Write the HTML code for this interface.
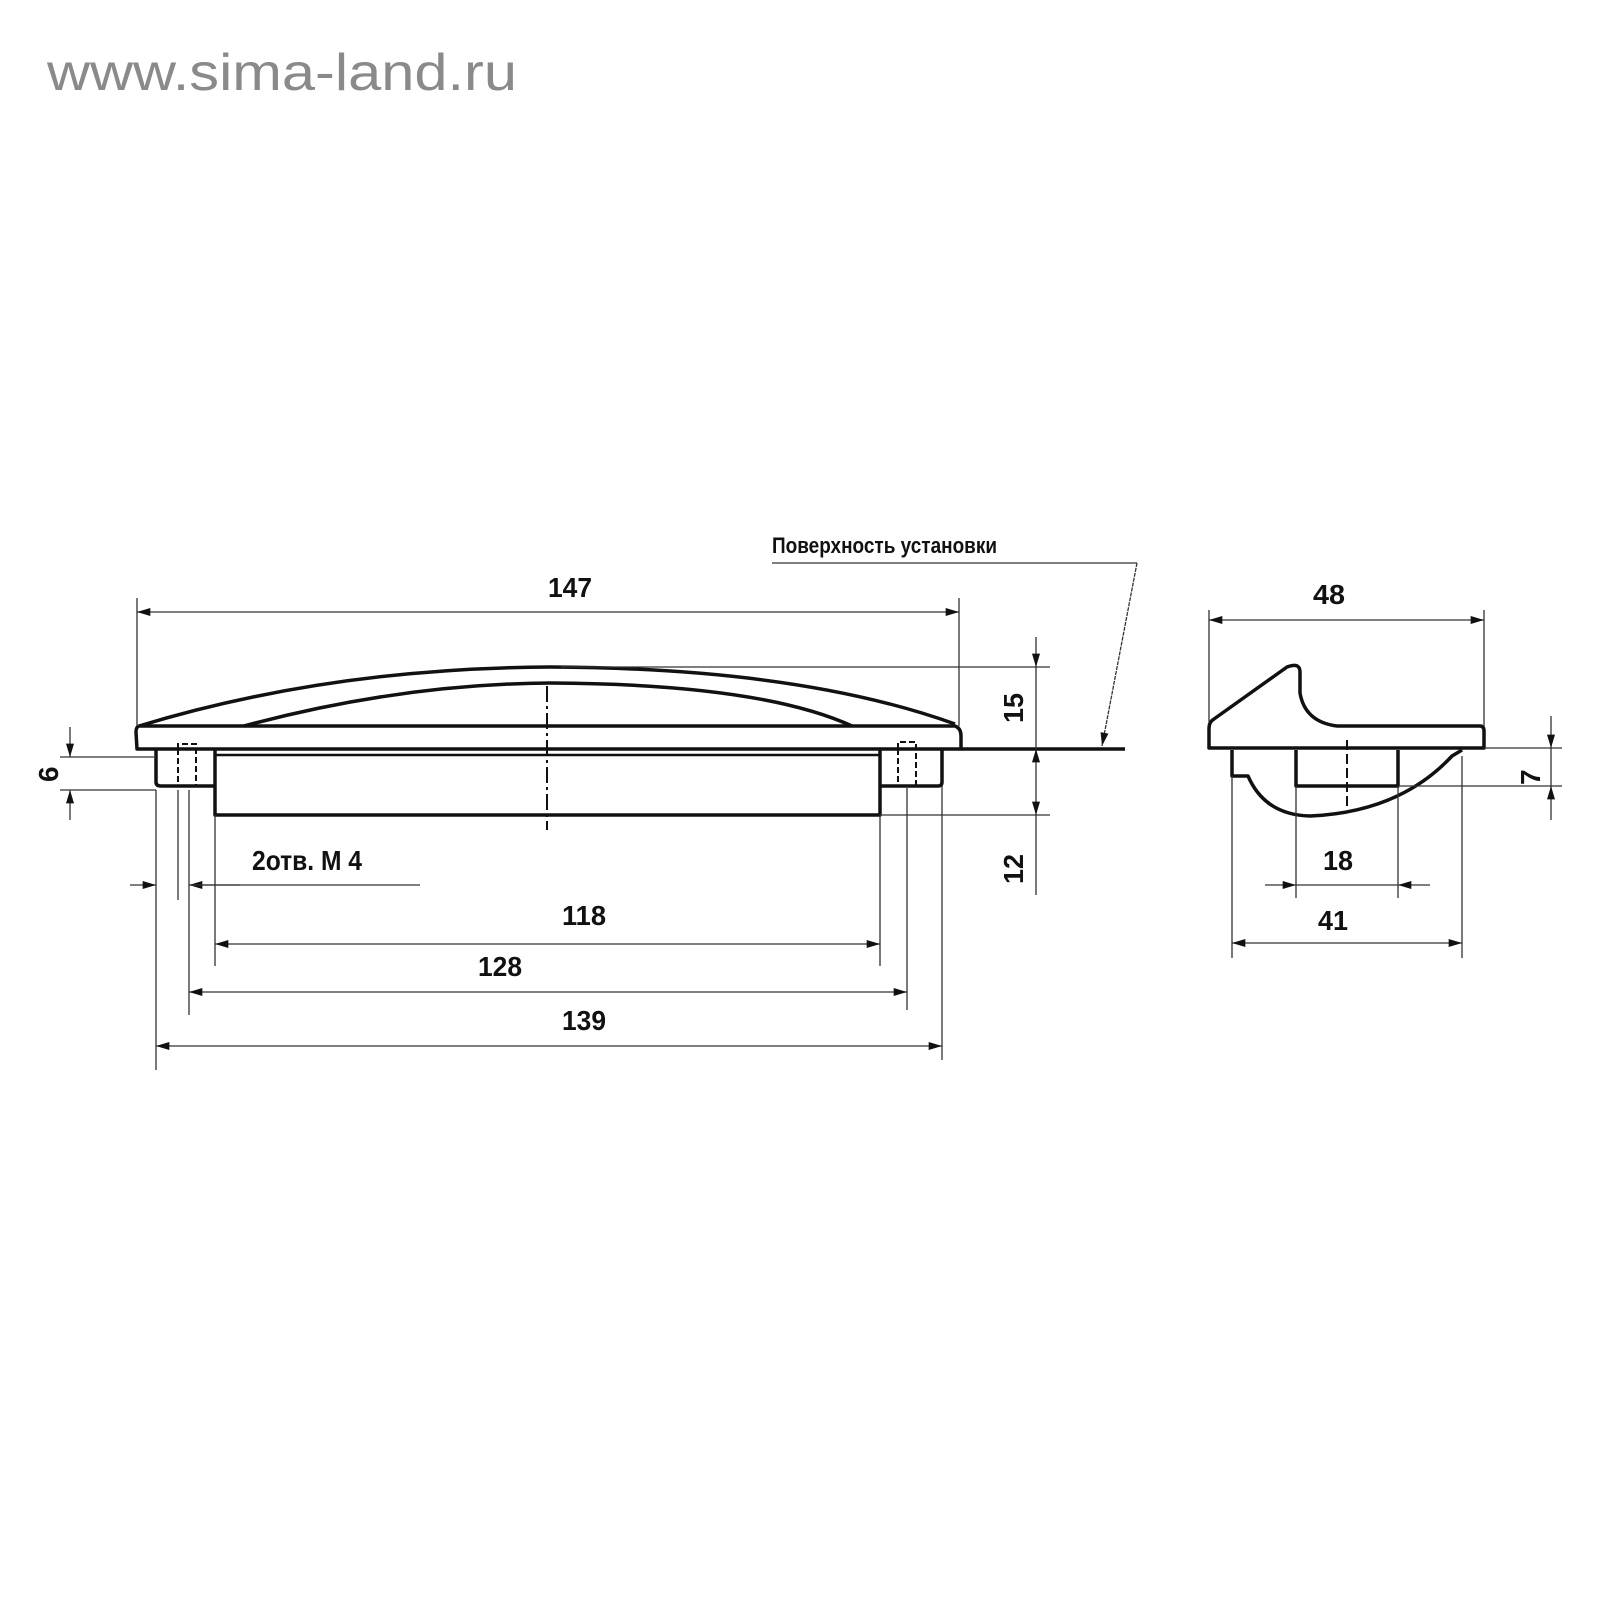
<!DOCTYPE html>
<html><head><meta charset="utf-8"><style>
html,body{margin:0;padding:0;background:#fff;}
svg{display:block}
text{font-family:"Liberation Sans","DejaVu Sans",sans-serif;font-weight:bold;fill:#111}
</style></head><body>
<svg width="1600" height="1600" viewBox="0 0 1600 1600" xmlns="http://www.w3.org/2000/svg">
<defs>
<marker id="a" viewBox="0 0 10 6" refX="10" refY="3" markerWidth="24" markerHeight="8" markerUnits="userSpaceOnUse" orient="auto"><path d="M0,0L10,3L0,6z" fill="#111"/></marker>
</defs>
<text x="47" y="90" font-size="52" textLength="470" lengthAdjust="spacingAndGlyphs" style="font-weight:normal;fill:#8a8a8a">www.sima-land.ru</text>

<g stroke="#111" fill="none" stroke-width="3.5" stroke-linejoin="round">
<path d="M139,726 L955,726 Q961,728 961,736 L961,749 L137,749 L136,732 Q136,727 139,726"/>
<path d="M139,726 Q330,668 550,667 Q800,668 955,724"/>
<path d="M244,726 Q400,684 550,683 Q760,684 852,726"/>
<line x1="215" y1="755" x2="880" y2="755" stroke-width="2.5"/>
<path d="M215,750 L215,815 L880,815 L880,750"/>
<path d="M156,749 L156,782 Q156,786 161,786 L215,786"/>
<path d="M880,786 L938,786 Q942,786 942,782 L942,749"/>
<path d="M1209,748 L1209,728 Q1209,722 1214,719 L1287,667 Q1300,662 1300,672 L1300,693 Q1305,722 1337,726 L1480,726 Q1484,726 1484,731 L1484,748 Z"/>
<path d="M1232,750 L1232,776 L1248,776 Q1265,815 1310,816 Q1400,812 1452,756 L1462,750 L1462,750"/>
<path d="M1296,750 L1296,786 L1398,786 L1398,750"/>
</g>
<g stroke="#111" fill="none" stroke-width="2">
<path d="M178,749 L178,744 L196,744 L196,786 M178,749 L178,786" stroke-dasharray="6,3"/>
<path d="M898,749 L898,742 L916,742 L916,786 M898,749 L898,786" stroke-dasharray="6,3"/>
<path d="M547,686 L547,830" stroke-dasharray="16,4,3,4"/>
<path d="M1347,740 L1347,808" stroke-dasharray="10,4"/>
</g>
<g stroke="#333" stroke-width="1.3" fill="none">
<line x1="137" y1="598" x2="137" y2="726"/>
<line x1="959" y1="598" x2="959" y2="726"/>
<line x1="561" y1="667" x2="1050" y2="667"/>
<line x1="961" y1="749" x2="1125" y2="749" stroke-width="3.5" stroke="#111"/>
<line x1="880" y1="815" x2="1050" y2="815"/>
<line x1="60" y1="757" x2="156" y2="757"/>
<line x1="60" y1="790" x2="156" y2="790"/>
<line x1="156" y1="790" x2="156" y2="1070"/>
<line x1="178" y1="790" x2="178" y2="900"/>
<line x1="189" y1="790" x2="189" y2="1015"/>
<line x1="215" y1="815" x2="215" y2="966"/>
<line x1="880" y1="815" x2="880" y2="966"/>
<line x1="907" y1="786" x2="907" y2="1010"/>
<line x1="942" y1="786" x2="942" y2="1060"/>
<line x1="1209" y1="610" x2="1209" y2="722"/>
<line x1="1484" y1="610" x2="1484" y2="726"/>
<line x1="1232" y1="776" x2="1232" y2="958"/>
<line x1="1462" y1="756" x2="1462" y2="958"/>
<line x1="1296" y1="786" x2="1296" y2="898"/>
<line x1="1398" y1="786" x2="1398" y2="898"/>
<line x1="1484" y1="748" x2="1562" y2="748"/>
<line x1="1400" y1="786" x2="1562" y2="786"/>
<line x1="772" y1="563" x2="1137" y2="563"/>
<line x1="1137" y1="563" x2="1102" y2="746" stroke-dasharray="4,1" marker-end="url(#a)"/>
<line x1="548" y1="612" x2="137" y2="612" marker-end="url(#a)"/>
<line x1="548" y1="612" x2="959" y2="612" marker-end="url(#a)"/>
<line x1="1036" y1="637" x2="1036" y2="667" marker-end="url(#a)"/>
<line x1="1036" y1="667" x2="1036" y2="749"/>
<line x1="1036" y1="780" x2="1036" y2="749" marker-end="url(#a)"/>
<line x1="1036" y1="780" x2="1036" y2="815" marker-end="url(#a)"/>
<line x1="1036" y1="815" x2="1036" y2="895"/>
<line x1="70" y1="727" x2="70" y2="757" marker-end="url(#a)"/>
<line x1="70" y1="820" x2="70" y2="790" marker-end="url(#a)"/>
<line x1="130" y1="885" x2="156" y2="885" marker-end="url(#a)"/>
<line x1="240" y1="885" x2="189" y2="885" marker-end="url(#a)"/>
<line x1="189" y1="885" x2="420" y2="885"/>
<line x1="240" y1="944" x2="215" y2="944" marker-end="url(#a)"/>
<line x1="240" y1="944" x2="880" y2="944" marker-end="url(#a)"/>
<line x1="215" y1="992" x2="189" y2="992" marker-end="url(#a)"/>
<line x1="215" y1="992" x2="907" y2="992" marker-end="url(#a)"/>
<line x1="180" y1="1046" x2="156" y2="1046" marker-end="url(#a)"/>
<line x1="180" y1="1046" x2="942" y2="1046" marker-end="url(#a)"/>
<line x1="1235" y1="620" x2="1209" y2="620" marker-end="url(#a)"/>
<line x1="1235" y1="620" x2="1484" y2="620" marker-end="url(#a)"/>
<line x1="1265" y1="885" x2="1296" y2="885" marker-end="url(#a)"/>
<line x1="1296" y1="885" x2="1398" y2="885"/>
<line x1="1430" y1="885" x2="1398" y2="885" marker-end="url(#a)"/>
<line x1="1255" y1="943" x2="1232" y2="943" marker-end="url(#a)"/>
<line x1="1255" y1="943" x2="1462" y2="943" marker-end="url(#a)"/>
<line x1="1551" y1="716" x2="1551" y2="748" marker-end="url(#a)"/>
<line x1="1551" y1="748" x2="1551" y2="786"/>
<line x1="1551" y1="820" x2="1551" y2="786" marker-end="url(#a)"/>
</g>
<g font-size="28">
<text x="548" y="597" textLength="44" lengthAdjust="spacingAndGlyphs">147</text>
<text x="1313" y="604" textLength="32" lengthAdjust="spacingAndGlyphs">48</text>
<text x="562" y="925" textLength="44" lengthAdjust="spacingAndGlyphs">118</text>
<text x="478" y="976" textLength="44" lengthAdjust="spacingAndGlyphs">128</text>
<text x="562" y="1030" textLength="44" lengthAdjust="spacingAndGlyphs">139</text>
<text x="1323" y="870" textLength="30" lengthAdjust="spacingAndGlyphs">18</text>
<text x="1318" y="930" textLength="30" lengthAdjust="spacingAndGlyphs">41</text>
<text x="252" y="870" textLength="110" lengthAdjust="spacingAndGlyphs">2отв. М 4</text>
<text transform="translate(1023,723) rotate(-90)" textLength="30" lengthAdjust="spacingAndGlyphs">15</text>
<text transform="translate(1023,884) rotate(-90)" textLength="30" lengthAdjust="spacingAndGlyphs">12</text>
<text transform="translate(58,782) rotate(-90)">6</text>
<text transform="translate(1540,785) rotate(-90)">7</text>
</g>
<text x="772" y="553" font-size="22" textLength="225" lengthAdjust="spacingAndGlyphs">Поверхность установки</text>
</svg>
</body></html>
